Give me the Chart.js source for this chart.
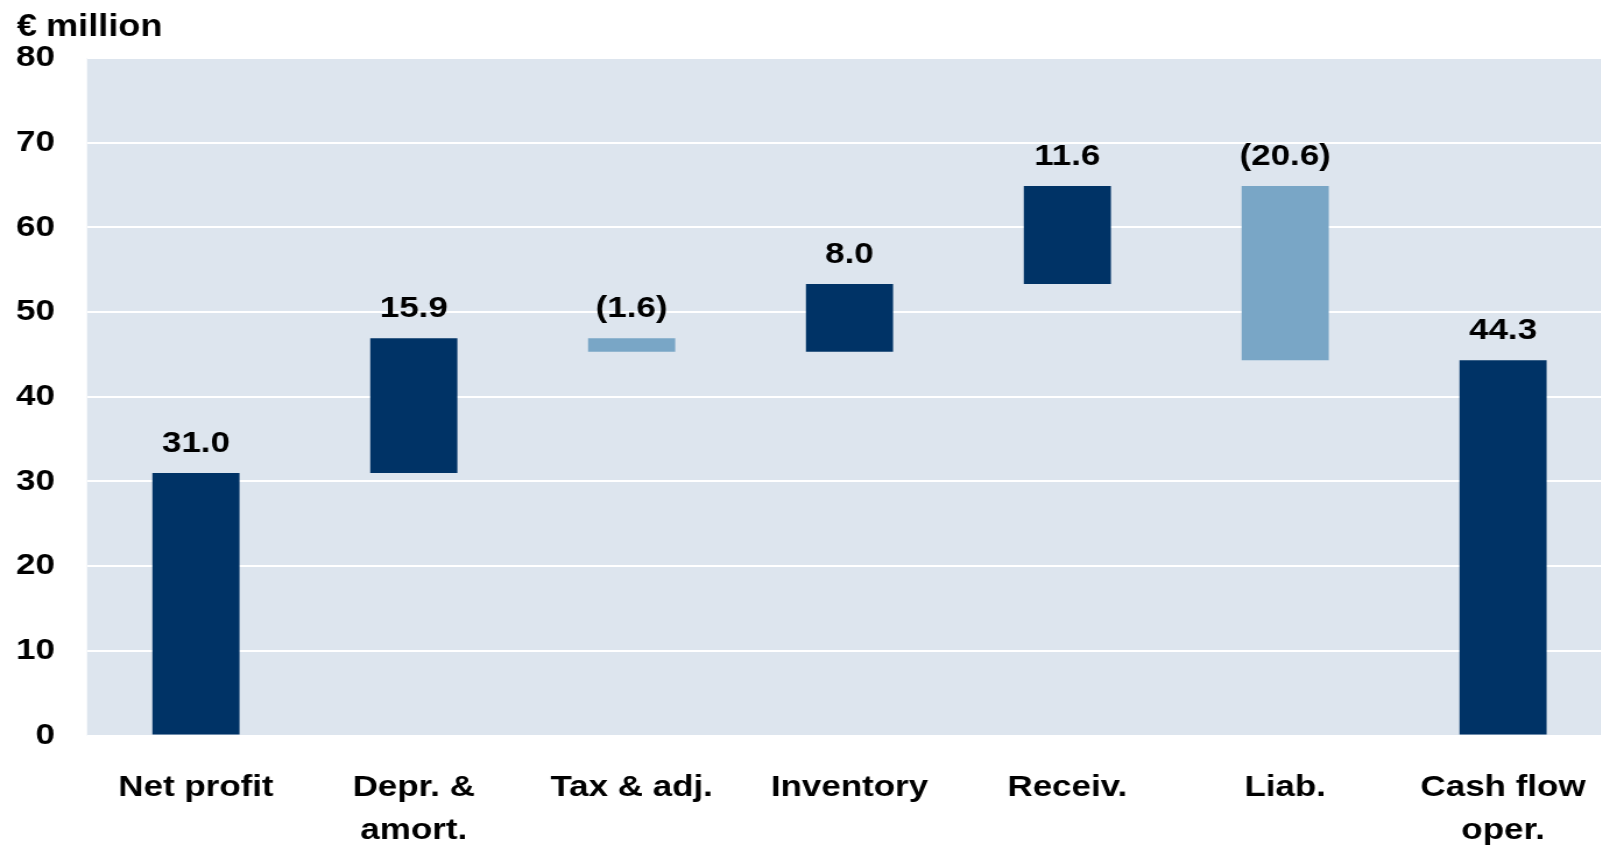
<!DOCTYPE html>
<html>
<head>
<meta charset="utf-8">
<script src="https://cdn.jsdelivr.net/npm/chart.js@4/dist/chart.umd.min.js"></script>
<style>
  html, body { margin: 0; padding: 0; background: #ffffff; overflow: hidden; width: 1601px; height: 848px; }
  #wrap { position: absolute; left: 0; top: 0; width: 1384px; height: 848px; transform: scaleX(1.165); transform-origin: 0 0; }
</style>
</head>
<body>
<div id="wrap"><canvas id="c"></canvas></div>
<script>
// ---- data ----
const categories = [["Net profit"], ["Depr. &", "amort."], ["Tax & adj."], ["Inventory"], ["Receiv."], ["Liab."], ["Cash flow", "oper."]];
const changes = [31.0, 15.9, -1.6, 8.0, 11.6, -20.6, 44.3];
const isTotal = [true, false, false, false, false, false, true];
const yTickValues = [0, 10, 20, 30, 40, 50, 60, 70, 80];
const unitSymbol = "€";
const unitWord = "million";

// ---- build floating ranges from the values ----
const ranges = [];
let running = 0;
changes.forEach((v, i) => {
  if (isTotal[i]) { ranges.push([0, v]); running = v; }
  else { ranges.push([running, running + v]); running += v; }
});
const valueLabels = changes.map(v => v < 0 ? "(" + Math.abs(v).toFixed(1) + ")" : v.toFixed(1));

const DARK = "#003366";
const LIGHT = "#79A6C6";
const BG = "#DDE5EE";
const FONT = "'Liberation Sans', Arial, sans-serif";

const bgPlugin = {
  id: 'bg',
  beforeDraw(chart) {
    const { ctx, chartArea: a } = chart;
    ctx.save();
    ctx.fillStyle = BG;
    ctx.fillRect(a.left, a.top, a.right - a.left, a.bottom - a.top);
    ctx.restore();
  }
};
const labelPlugin = {
  id: 'vlabels',
  afterDatasetsDraw(chart) {
    const { ctx } = chart;
    const meta = chart.getDatasetMeta(0);
    ctx.save();
    ctx.font = "bold 30px " + FONT;
    ctx.fillStyle = "#000";
    ctx.textAlign = "center";
    ctx.textBaseline = "alphabetic";
    meta.data.forEach((el, i) => {
      const top = Math.min(el.y, el.base);
      ctx.fillText(valueLabels[i], el.x, top - 21);
    });
    ctx.font = "bold 31px " + FONT;
    ctx.textAlign = "left";
    ctx.fillText(unitSymbol, 14.6, 36);
    ctx.fillText(unitWord, 39.5, 36);
    ctx.restore();
  }
};

new Chart(document.getElementById('c'), {
  type: 'bar',
  data: {
    labels: categories,
    datasets: [{
      data: ranges,
      backgroundColor: changes.map((v, i) => v < 0 ? LIGHT : DARK),
      borderWidth: 0,
      borderSkipped: false,
      barPercentage: 0.4,
      categoryPercentage: 1.0
    }]
  },
  options: {
    responsive: true,
    maintainAspectRatio: false,
    animation: false,
    devicePixelRatio: 1,
    layout: { padding: { top: 58, right: 0, left: 0, bottom: 0 } },
    plugins: { legend: { display: false }, tooltip: { enabled: false } },
    scales: {
      x: {
        grid: { display: false },
        border: { display: false },
        ticks: { color: "#000", font: { family: FONT, size: 30, weight: 'bold', lineHeight: 1.43 }, padding: 23, maxRotation: 0, autoSkip: false },
        afterFit(scale) { scale.height = 112.5; }
      },
      y: {
        min: 0, max: 80,
        afterBuildTicks(scale) { scale.ticks = yTickValues.map(v => ({ value: v })); },
        grid: { color: "#ffffff", lineWidth: 2, drawTicks: false },
        border: { display: false },
        ticks: { color: "#000", font: { family: FONT, size: 30, weight: 'bold' }, padding: 27.5 },
        afterFit(scale) { scale.width = 74.7; }
      }
    }
  },
  plugins: [bgPlugin, labelPlugin]
});
</script>
</body>
</html>
